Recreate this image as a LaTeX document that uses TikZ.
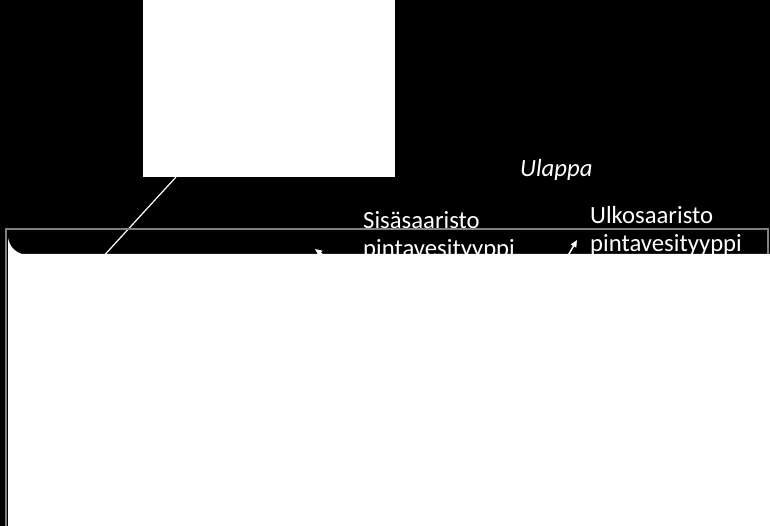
\documentclass[tikz,border=0pt]{standalone}
\usepackage{fontspec}
\setmainfont{Carlito}
\usetikzlibrary{arrows.meta}
\begin{document}
\begin{tikzpicture}[x=1pt, y=-1pt, >={Triangle[length=7pt,width=6pt]},
	lbl/.style={text=white, inner sep=0pt, align=left, font=\fontsize{24.7}{28}\selectfont}]
	\fill[black] (0,0) rectangle (770,526);
	\useasboundingbox (0,0) rectangle (770,526);
	\fill[white] (143,0) rectangle (395,177);
	\coordinate (kuva) at (176,177);
	\coordinate (pohja) at (100,260);
	\draw[white, line width=1.2pt] (kuva) -- (pohja);
	\node[lbl, font=\fontsize{24.7}{28}\selectfont\itshape, anchor=base west] (ulappa) at (520,177) {Ulappa};
	\node[lbl, anchor=north west] (sisa) at (363,211) {Sisäsaaristo\\pintavesityyppi};
	\node[lbl, anchor=north west] (ulko) at (590,206) {Ulkosaaristo\\pintavesityyppi};
	\draw[white, line width=1.5pt, ->] (562,266) -- (577,240);
	\draw[white, line width=1.5pt, ->] (332,262) -- (315,249);
	\fill[white] (8,238) .. controls (10,247) and (15,252) .. (22,254) -- (770,254) -- (770,526) -- (8,526) -- cycle;
	\draw[gray, line width=1.5pt] (6,526) -- (6,229) -- (768,229) -- (768,254);
\end{tikzpicture}
\end{document}
